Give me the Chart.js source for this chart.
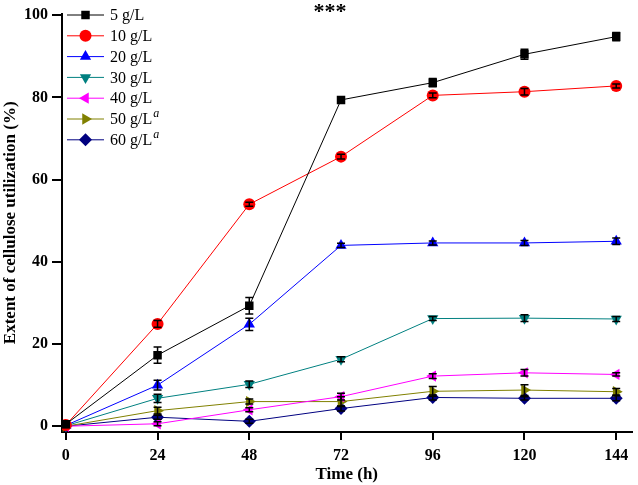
<!DOCTYPE html>
<html>
<head>
<meta charset="utf-8">
<script src="https://cdn.jsdelivr.net/npm/chart.js@4/dist/chart.umd.min.js"></script>
<style>
  html, body { margin: 0; padding: 0; background: #fff; }
  #wrap { width: 638px; height: 485px; }
</style>
</head>
<body>
<div id="wrap"><canvas id="cellChart" width="638" height="485"></canvas></div>
<script>
// --- data ---
const hours = [0, 24, 48, 72, 96, 120, 144];
const yTicks = [0, 20, 40, 60, 80, 100];

const names = ['5 g/L', '10 g/L', '20 g/L', '30 g/L', '40 g/L', '50 g/L', '60 g/L'];
const sups  = ['', '', '', '', '', 'a', 'a'];

const c5  = [0.5, 17.3, 29.3, 79.4, 83.6, 90.5, 94.8];
const c10 = [0.3, 24.9, 54.0, 65.6, 80.5, 81.4, 82.8];
const c20 = [0.2, 10.0, 24.8, 44.0, 44.6, 44.6, 45.0];
const c30 = [0.1, 6.8, 10.2, 16.3, 26.2, 26.3, 26.1];
const c40 = [0.0, 0.6, 4.0, 7.2, 12.2, 13.0, 12.6];
const c50 = [0.0, 3.8, 6.0, 6.0, 8.5, 8.8, 8.4];
const c60 = [0.0, 2.2, 1.2, 4.3, 7.0, 6.8, 6.8];

// standard deviations (error bars)
const e5  = [0.8, 2.0, 2.0, 0.5, 1.0, 1.2, 1.0];
const e10 = [0.3, 0.8, 0.5, 0.6, 0.6, 0.8, 0.5];
const e20 = [0.2, 1.2, 1.5, 0.5, 0.5, 0.6, 0.8];
const e30 = [0.2, 1.0, 0.8, 0.6, 0.5, 0.8, 0.6];
const e40 = [0.2, 0.5, 0.5, 0.8, 0.6, 0.8, 0.4];
const e50 = [0.2, 0.8, 0.6, 1.2, 1.2, 1.3, 0.8];
const e60 = [0.1, 0.5, 0.5, 0.6, 0.6, 0.4, 0.6];

const values = [c5, c10, c20, c30, c40, c50, c60];
const errors = [e5, e10, e20, e30, e40, e50, e60];
const colors = ['#000000', '#ff0000', '#0000ff', '#008080', '#ff00ff', '#808000', '#000080'];
const styles = ['rect', 'circle', 'triangle', 'triangle', 'triangle', 'triangle', 'rectRot'];
const rotations = [0, 0, 0, 180, 270, 90, 0];
const radii = [6, 6, 6.5, 6.5, 6.5, 6.5, 6.5];

const serif = "'Liberation Serif', 'Times New Roman', serif";

const datasets = values.map((vals, i) => ({
    label: names[i],
    data: vals.map((v, j) => ({ x: hours[j], y: v })),
    borderColor: colors[i],
    backgroundColor: colors[i],
    borderWidth: 1,
    pointStyle: styles[i],
    pointRotation: rotations[i],
    pointRadius: radii[i],
    pointBorderWidth: 0,
    pointBackgroundColor: colors[i],
    tension: 0
}));

// error bars drawn through the scales
const errorBars = {
    id: 'errorBars',
    afterDatasetsDraw(chart) {
        const ctx = chart.ctx;
        const xs = chart.scales.x, ys = chart.scales.y;
        ctx.save();
        ctx.strokeStyle = '#000';
        ctx.lineWidth = 1.5;
        values.forEach((vals, i) => {
            vals.forEach((v, j) => {
                const x = xs.getPixelForValue(hours[j]);
                const top = ys.getPixelForValue(v + errors[i][j]);
                const bot = ys.getPixelForValue(v - errors[i][j]);
                ctx.beginPath();
                ctx.moveTo(x, top); ctx.lineTo(x, bot);
                ctx.moveTo(x - 4, top); ctx.lineTo(x + 4, top);
                ctx.moveTo(x - 4, bot); ctx.lineTo(x + 4, bot);
                ctx.stroke();
            });
        });
        ctx.restore();
    }
};

// legend with line + marker, and the *** mark
const sideLegend = {
    id: 'sideLegend',
    afterDraw(chart) {
        const ctx = chart.ctx;
        ctx.save();
        names.forEach((name, i) => {
            const y = 15 + i * 20.8;
            ctx.strokeStyle = colors[i];
            ctx.lineWidth = 1;
            ctx.beginPath();
            ctx.moveTo(67, y); ctx.lineTo(104, y);
            ctx.stroke();
            ctx.fillStyle = colors[i];
            Chart.helpers.drawPoint(ctx, {
                pointStyle: styles[i], rotation: rotations[i], radius: radii[i], borderWidth: 0
            }, 85.5, y);
            ctx.fillStyle = '#000';
            ctx.font = '16px ' + serif;
            ctx.textBaseline = 'middle';
            ctx.textAlign = 'left';
            ctx.fillText(name, 110, y + 1);
            if (sups[i]) {
                const w = ctx.measureText(name).width;
                ctx.font = 'italic 12px ' + serif;
                ctx.fillText(sups[i], 110 + w + 1, y - 5);
            }
        });
        ctx.font = 'bold 22px ' + serif;
        ctx.textAlign = 'center';
        ctx.textBaseline = 'top';
        ctx.fillText('***', 330, 1);
        ctx.restore();
    }
};

new Chart(document.getElementById('cellChart'), {
    type: 'line',
    data: { datasets: datasets },
    options: {
        responsive: false,
        animation: false,
        layout: { padding: { top: 7, right: 0, left: 0, bottom: 0 } },
        plugins: { legend: { display: false }, tooltip: { enabled: false } },
        scales: {
            x: {
                type: 'linear',
                min: -1,
                max: 148,
                afterBuildTicks: s => { s.ticks = hours.map(v => ({ value: v })); },
                afterFit: s => { s.height = 53; },
                grid: { drawOnChartArea: false, drawTicks: true, tickLength: 8, color: '#000', lineWidth: 2 },
                border: { color: '#000', width: 2 },
                ticks: { color: '#000', padding: 6, font: { family: serif, size: 16, weight: 'bold' } },
                title: {
                    display: true, text: 'Time (h)', color: '#000', padding: { top: 2, bottom: 0 },
                    font: { family: serif, size: 17, weight: 'bold' }
                }
            },
            y: {
                min: -1.4,
                max: 100.4,
                afterBuildTicks: s => { s.ticks = yTicks.map(v => ({ value: v })); },
                afterFit: s => { s.width = 62; },
                grid: { drawOnChartArea: false, drawTicks: true, tickLength: 10, color: '#000', lineWidth: 2 },
                border: { color: '#000', width: 2 },
                ticks: { color: '#000', padding: 4, font: { family: serif, size: 16, weight: 'bold' } },
                title: {
                    display: true, text: 'Extent of cellulose utilization (%)', color: '#000', padding: 0,
                    font: { family: serif, size: 17, weight: 'bold' }
                }
            }
        }
    },
    plugins: [errorBars, sideLegend]
});
</script>
</body>
</html>
